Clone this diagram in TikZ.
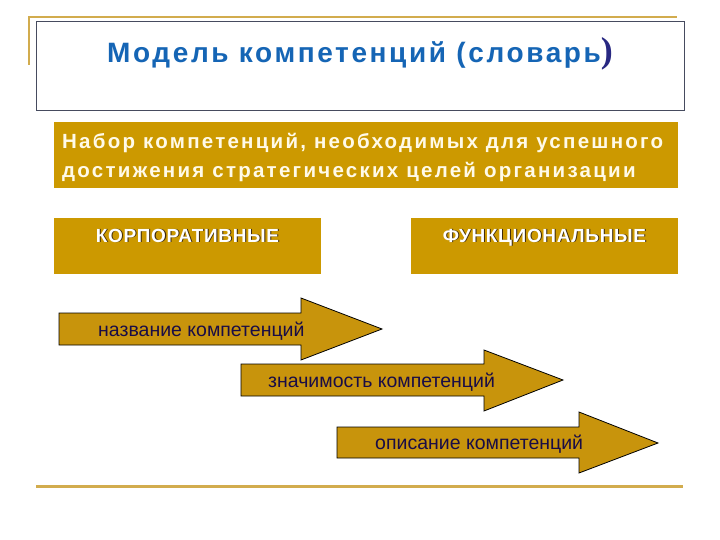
\documentclass[tikz,border=0pt]{standalone}
\usepackage{fontspec}
\setmainfont{Liberation Sans}
\newfontfamily\parenfont{Liberation Serif}
\definecolor{gold}{RGB}{204,153,0}
\definecolor{arrowgold}{RGB}{200,148,12}
\definecolor{linegold}{RGB}{210,172,78}
\definecolor{titleblue}{RGB}{21,101,181}
\definecolor{parenblue}{RGB}{40,40,130}
\definecolor{navytext}{RGB}{25,12,70}
\definecolor{framegray}{RGB}{70,75,95}
\definecolor{cream}{RGB}{255,250,232}
\definecolor{shadowc}{RGB}{60,40,10}
\newcommand{\shtext}[1]{\makebox[0pt][l]{\raisebox{-1pt}{\hspace{1pt}\textcolor{shadowc}{#1}}}#1}
\begin{document}
\begin{tikzpicture}[x=1pt,y=-1pt,
  goldbox/.style={fill=gold, draw=none, rectangle, inner sep=0pt},
  arrowshape/.style={fill=arrowgold, draw=black, line width=0.8pt, line join=miter},
  arrowlabel/.style={anchor=base west, inner sep=0pt, text=navytext, font=\fontsize{19.5}{22}\selectfont},
  caplabel/.style={anchor=base, inner sep=0pt, text=white, font=\fontsize{19}{22}\selectfont\bfseries\addfontfeatures{LetterSpace=3.5}}]
\useasboundingbox (0,0) rectangle (720,540);
% decorative lines
\draw[linegold, line width=2pt] (29,65) -- (29,17) -- (677,17);
\draw[linegold, line width=3pt] (36,486) -- (683,486);
% title
\node[draw=framegray, line width=0.8pt, fill=white, minimum width=648pt, minimum height=89pt, inner sep=0pt] (titlebox) at (360,65.5) {};
\node[anchor=base west, inner sep=0pt, font=\fontsize{28}{32}\selectfont\bfseries\addfontfeatures{LetterSpace=9.3}, text=titleblue] (title) at (107,63) {Модель компетенций (словарь{\parenfont\fontsize{36}{36}\selectfont\color{parenblue})}};
% goal box
\node[goldbox, minimum width=624pt, minimum height=66pt] (goal) at (366,155) {};
\node[anchor=base west, inner sep=0pt, text=cream, align=left, font=\fontsize{20.5}{29}\selectfont\bfseries\addfontfeatures{LetterSpace=11}] (goaltext) at (62,178) {Набор компетенций, необходимых для успешного\\достижения стратегических целей организации};
% categories
\node[goldbox, minimum width=267pt, minimum height=56pt] (corp) at (187.5,246) {};
\node[caplabel] (corptext) at (187.5,242) {\shtext{КОРПОРАТИВНЫЕ}};
\node[goldbox, minimum width=267pt, minimum height=56pt] (func) at (544.5,246) {};
\node[caplabel] (functext) at (544.5,242) {\shtext{ФУНКЦИОНАЛЬНЫЕ}};
% arrows
\draw[arrowshape] (59,313) -- (301,313) -- (301,298) -- (382,329) -- (301,360) -- (301,345) -- (59,345) -- cycle;
\node[arrowlabel] (a1) at (98,336) {название компетенций};
\draw[arrowshape] (241,364) -- (484,364) -- (484,350) -- (563,380) -- (484,411) -- (484,396) -- (241,396) -- cycle;
\node[arrowlabel] (a2) at (268,387) {значимость компетенций};
\draw[arrowshape] (337,427) -- (579,427) -- (579,412) -- (658,443) -- (579,473) -- (579,458) -- (337,458) -- cycle;
\node[arrowlabel] (a3) at (375,449) {описание компетенций};
\end{tikzpicture}
\end{document}
